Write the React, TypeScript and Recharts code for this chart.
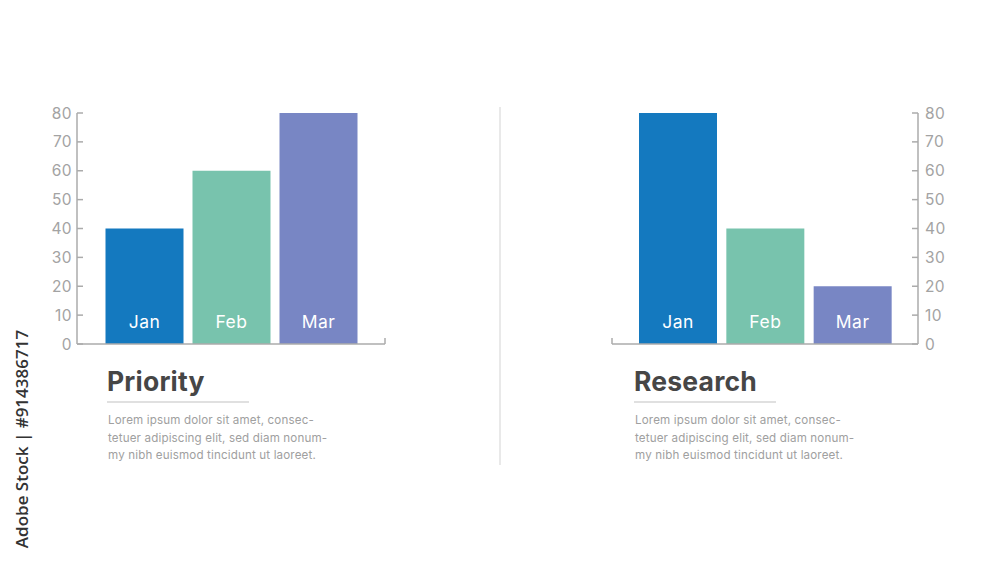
import React from 'react';
import { BarChart, Bar, XAxis, YAxis, Cell, LabelList } from 'recharts';

const months = ['Jan', 'Feb', 'Mar'];
const priorityValues = [40, 60, 80];
const researchValues = [80, 40, 20];
const barColors = ['#1479bf', '#78c3ad', '#7886c4'];
const yTicks = [0, 10, 20, 30, 40, 50, 60, 70, 80];
const bodyLines = [
  'Lorem ipsum dolor sit amet, consec-',
  'tetuer adipiscing elit, sed diam nonum-',
  'my nibh euismod tincidunt ut laoreet.',
];

const FONT = 'Inter, "Open Sans", sans-serif';
const AXIS = '#ababab';
const TICK_TEXT = '#a3a3a3';

const toRows = (values: number[]) => months.map((m, i) => ({ month: m, value: values[i] }));

function LeftTick(props: any) {
  const { x, y, payload } = props;
  return (
    <g>
      <line x1={x + 5} x2={x + 11} y1={y} y2={y} stroke={AXIS} strokeWidth={1.5} />
      <text x={x} y={y} dy={5.5} textAnchor="end" fill={TICK_TEXT} fontSize={15.5} fontFamily={FONT} letterSpacing={0.4}>
        {payload.value}
      </text>
    </g>
  );
}

function RightTick(props: any) {
  const { x, y, payload } = props;
  return (
    <g>
      <line x1={x - 13} x2={x - 7} y1={y} y2={y} stroke={AXIS} strokeWidth={1.5} />
      <text x={x} y={y} dy={5.5} textAnchor="start" fill={TICK_TEXT} fontSize={15.5} fontFamily={FONT} letterSpacing={0.4}>
        {payload.value}
      </text>
    </g>
  );
}

function MonthLabel(props: any) {
  const { x, y, width, height, value } = props;
  return (
    <text
      x={x + width / 2}
      y={y + height - 16}
      textAnchor="middle"
      fill="#ffffff"
      fontSize={17.5}
      letterSpacing={0.5}
      fontFamily={FONT}
    >
      {value}
    </text>
  );
}

function Panel({ values, side }: { values: number[]; side: 'left' | 'right' }) {
  const isLeft = side === 'left';
  return (
    <BarChart
      width={isLeft ? 420 : 440}
      height={360}
      data={toRows(values)}
      margin={isLeft ? { top: 113, right: 35, left: 0, bottom: 15 } : { top: 113, right: 0, left: 52, bottom: 15 }}
    >
      <XAxis
        dataKey="month"
        height={1}
        tick={false}
        tickLine={false}
        axisLine={{ stroke: AXIS, strokeWidth: 1.5 }}
        padding={isLeft ? { left: 23.5, right: 23.5 } : { left: 22, right: 22 }}
      />
      <YAxis
        orientation={side}
        width={isLeft ? 77 : 82}
        domain={[0, 80]}
        ticks={yTicks}
        interval={0}
        tickLine={false}
        tickSize={0}
        tickMargin={isLeft ? 5 : 7}
        axisLine={{ stroke: AXIS, strokeWidth: 1.5 }}
        tick={isLeft ? <LeftTick /> : <RightTick />}
      />
      <Bar dataKey="value" barSize={78} isAnimationActive={false}>
        {values.map((_, i) => (
          <Cell key={months[i]} fill={barColors[i]} />
        ))}
        <LabelList dataKey="month" content={<MonthLabel />} />
      </Bar>
    </BarChart>
  );
}

function Caption({ title, left }: { title: string; left: number }) {
  return (
    <div style={{ position: 'absolute', left, top: 364, fontFamily: FONT }}>
      <div style={{ fontSize: 26.5, fontWeight: 700, color: '#464646', lineHeight: '34px', letterSpacing: 0.2 }}>
        {title}
      </div>
      <div style={{ width: 142, height: 2, background: '#e0e0e0', marginTop: 3 }} />
      <div style={{ marginTop: 9, marginLeft: 1, fontSize: 11.6, color: '#a0a0a0', lineHeight: '17.5px', letterSpacing: 0.15 }}>
        {bodyLines.map((l) => (
          <div key={l}>{l}</div>
        ))}
      </div>
    </div>
  );
}

export default function App() {
  return (
    <div
      style={{
        position: 'absolute',
        left: 0,
        top: 0,
        width: 1000,
        height: 563,
        background: '#ffffff',
        overflow: 'hidden',
      }}
    >
      <div style={{ position: 'absolute', left: 0, top: 0 }}>
        <Panel values={priorityValues} side="left" />
      </div>
      <div style={{ position: 'absolute', left: 560, top: 0 }}>
        <Panel values={researchValues} side="right" />
      </div>
      <svg width={1000} height={563} style={{ position: 'absolute', left: 0, top: 0, pointerEvents: 'none' }}>
        <line x1={385} x2={385} y1={338} y2={344} stroke={AXIS} strokeWidth={1.5} />
        <line x1={612} x2={612} y1={338} y2={344} stroke={AXIS} strokeWidth={1.5} />
        <line x1={500} x2={500} y1={107} y2={465} stroke="#e2e2e2" strokeWidth={1.5} />
        <text
          x={28}
          y={439}
          transform="rotate(-90 28 439)"
          textAnchor="middle"
          fontFamily='"Open Sans", sans-serif'
          fontWeight={600}
          fontSize={17}
          fill="#333333"
        >
          Adobe Stock | #914386717
        </text>
      </svg>
      <Caption title="Priority" left={107} />
      <Caption title="Research" left={634} />
    </div>
  );
}
